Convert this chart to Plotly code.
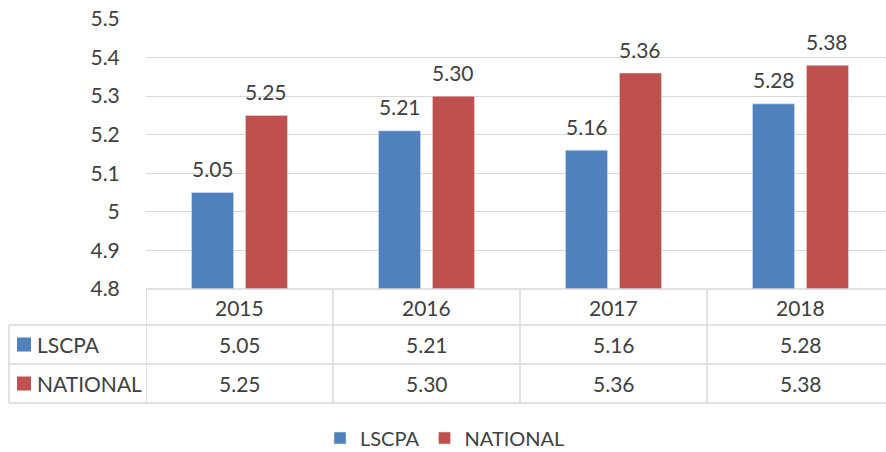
import plotly.graph_objects as go

years = ["2015", "2016", "2017", "2018"]
lscpa = [5.05, 5.21, 5.16, 5.28]
national = [5.25, 5.30, 5.36, 5.38]
series_names = ["LSCPA", "NATIONAL"]
colors = ["#4F81BD", "#C0504D"]
y_ticks = [4.8, 4.9, 5.0, 5.1, 5.2, 5.3, 5.4, 5.5]

W, H = 894, 452          # chart is slightly wider than the 886 px window (right edge cropped)
L, R, T, B = 146, 894, 19, 289  # plot area in px
pw, ph = R - L, B - T

def px_x(x):
    return (x - L) / pw

def px_y(y):
    return (B - y) / ph

FONT = "Lato, Carlito, Calibri, sans-serif"
TXT = "#404040"
LINE = "#D9D9D9"
FS = 21

BARGAP, GROUPGAP = 0.423, 0.22
slot_px = (1 - BARGAP) * (pw / len(years)) / 2

fig = go.Figure()
series = [lscpa, national]
for k, (name, vals, col) in enumerate(zip(series_names, series, colors)):
    fig.add_trace(go.Bar(
        x=list(range(len(years))), y=vals, name=name, marker_color=col,
    ))

shapes = []
annotations = []
for k, vals in enumerate(series):
    for i, v in enumerate(vals):
        annotations.append(dict(x=i, xref="x", y=v, yref="y", text=f"{v:.2f}", showarrow=False,
                                xshift=(k - 0.5) * slot_px, yshift=24, yanchor="middle",
                                font=dict(size=FS, color=TXT, family=FONT)))

row_lines = [289, 325, 364, 403]
shapes.append(dict(type="line", xref="paper", yref="paper", x0=0, x1=1, y0=px_y(289), y1=px_y(289),
                   line=dict(color=LINE, width=1.5)))
for yy in row_lines[1:]:
    shapes.append(dict(type="line", xref="paper", yref="paper", x0=px_x(9), x1=1, y0=px_y(yy), y1=px_y(yy),
                       line=dict(color=LINE, width=1.5)))
shapes.append(dict(type="line", xref="paper", yref="paper", x0=px_x(9), x1=px_x(9), y0=px_y(325), y1=px_y(403),
                   line=dict(color=LINE, width=1.5)))
for i in range(len(years) + 1):
    shapes.append(dict(type="line", xref="x", yref="paper", x0=i - 0.5, x1=i - 0.5, y0=px_y(289), y1=px_y(403),
                       line=dict(color=LINE, width=1.5)))

for i, yr in enumerate(years):
    annotations.append(dict(x=i, xref="x", y=px_y(307), yref="paper", text=yr, showarrow=False,
                            font=dict(size=FS, color=TXT, family=FONT), yanchor="middle"))
for r, (name, vals, col) in enumerate(zip(series_names, series, colors)):
    yc = (row_lines[r + 1] + row_lines[r + 2]) / 2
    shapes.append(dict(type="rect", xref="paper", yref="paper", x0=px_x(17), x1=px_x(31),
                       y0=px_y(yc + 7), y1=px_y(yc - 7), fillcolor=col, line=dict(width=0)))
    annotations.append(dict(x=px_x(35), xref="paper", y=px_y(yc), yref="paper", text=name, showarrow=False,
                            xanchor="left", yanchor="middle", font=dict(size=FS, color=TXT, family=FONT)))
    for i, v in enumerate(vals):
        annotations.append(dict(x=i, xref="x", y=px_y(yc), yref="paper", text=f"{v:.2f}", showarrow=False,
                                yanchor="middle", font=dict(size=FS, color=TXT, family=FONT)))

fig.update_layout(
    width=W, height=H,
    margin=dict(l=L, r=W - R, t=T, b=H - B, pad=0, autoexpand=False),
    paper_bgcolor="white", plot_bgcolor="white",
    barmode="group", bargap=BARGAP, bargroupgap=GROUPGAP,
    font=dict(family=FONT, color=TXT, size=FS),
    showlegend=True,
    legend=dict(orientation="h", xref="paper", yref="paper", x=px_x(445), xanchor="center",
                y=px_y(438), yanchor="middle", font=dict(size=FS - 1, color=TXT, family=FONT),
                itemwidth=30, traceorder="normal", bgcolor="rgba(0,0,0,0)"),
    xaxis=dict(range=[-0.5, len(years) - 0.5], showticklabels=False, showgrid=False,
               zeroline=False, showline=False, ticks="", automargin=False),
    yaxis=dict(range=[4.8, 5.5], tickvals=y_ticks, ticktext=[f"{v:g}" for v in y_ticks],
               showgrid=True, gridcolor=LINE, gridwidth=1.3, zeroline=False, showline=False,
               ticks="outside", ticklen=21, tickcolor="rgba(0,0,0,0)", automargin=False,
               tickfont=dict(size=FS, color=TXT, family=FONT)),
    shapes=shapes, annotations=annotations,
)

fig.write_html("out.html", config={"displayModeBar": False},
               post_script="document.body.style.margin='0';document.body.style.overflow='hidden';")
